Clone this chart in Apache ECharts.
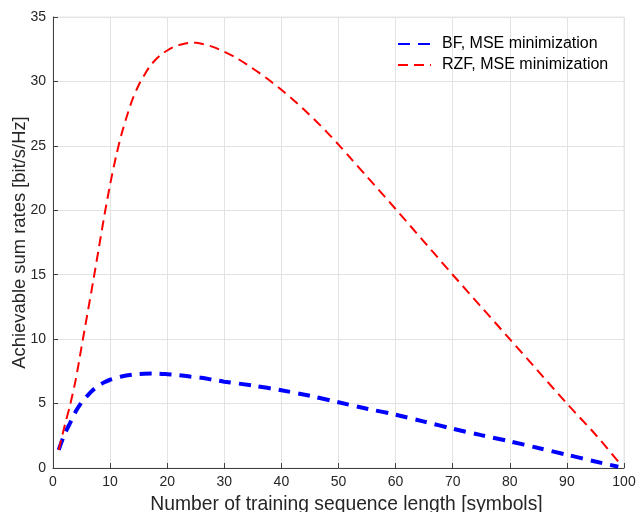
<!DOCTYPE html>
<html>
<head>
<meta charset="utf-8">
<script src="https://cdn.jsdelivr.net/npm/echarts@6/dist/echarts.min.js"></script>
<style>html,body{margin:0;padding:0;background:#fff}#c{width:636px;height:512px}</style>
</head>
<body>
<div id="c"></div>
<script>
var xTicks = [0,10,20,30,40,50,60,70,80,90,100];
var yTicks = [0,5,10,15,20,25,30,35];
var bfX = [1,2,3,4,5,6,7,8,9,10,12,14,16,18,20,22,24,26,28,30,35,40,45,50,55,60,65,70,75,80,85,90,95,99];
var bfY = [1.4,2.6,3.5,4.4,5.1,5.6,6.05,6.4,6.65,6.85,7.1,7.25,7.32,7.33,7.28,7.2,7.1,7.0,6.85,6.7,6.4,6.03,5.6,5.1,4.6,4.14,3.6,3.05,2.55,2.07,1.55,1.03,0.5,0.1];
var rzfX = [1,2,3,4,5,6,7,8,9,10,11,12,13,14,15,16,17,18,19,20,21,22,23,24,25,26,28,30,32,34,36,38,40,42,44,46,48,50,52,55,60,65,70,75,80,85,90,95,99];
var rzfY = [1.4,3.2,4.9,6.9,9.4,11.9,14.4,17.0,19.6,22.0,24.1,25.9,27.4,28.7,29.7,30.5,31.2,31.7,32.1,32.4,32.65,32.82,32.93,33.0,33.0,32.93,32.68,32.3,31.85,31.3,30.7,30.05,29.35,28.6,27.8,26.95,26.05,25.1,24.1,22.6,20.1,17.55,15.0,12.5,10.0,7.5,5.0,2.6,0.5];
var seriesNames = ['BF, MSE minimization','RZF, MSE minimization'];

function pairs(xs, ys){ return xs.map(function(x,i){return [x, ys[i]];}); }

var font = '"Liberation Sans", Arial, Helvetica, sans-serif';
var chart = echarts.init(document.getElementById('c'), null, {renderer:'canvas'});
chart.setOption({
  animation:false,
  backgroundColor:'#fff',
  grid:{left:53, right:12, top:17, bottom:44, containLabel:false, outerBoundsMode:'none',
        show:true, borderColor:'#e6e6e6', borderWidth:1},
  legend:{
    orient:'vertical', left:392, top:31, padding:5,
    itemWidth:33, itemHeight:14, itemGap:5,
    itemStyle:{opacity:0},
    textStyle:{fontFamily:font, fontSize:16, color:'#000', padding:[0,0,0,6]},
    data:seriesNames
  },
  xAxis:{
    type:'value', min:xTicks[0], max:xTicks[xTicks.length-1], interval:10,
    name:'Number of training sequence length [symbols]',
    nameLocation:'middle', nameGap:27,
    nameTextStyle:{fontFamily:font, fontSize:19.3, color:'#262626', padding:[0,0,0,16]},
    axisLine:{show:true, onZero:false, lineStyle:{color:'#404040', width:1}},
    axisTick:{show:true, inside:true, length:5, lineStyle:{color:'#404040'}},
    axisLabel:{fontFamily:font, fontSize:14, color:'#262626', margin:7},
    splitLine:{show:true, lineStyle:{color:'#e3e3e3', width:1}}
  },
  yAxis:{
    type:'value', min:yTicks[0], max:yTicks[yTicks.length-1], interval:5,
    name:'Achievable sum rates [bit/s/Hz]',
    nameLocation:'middle', nameGap:24, nameMoveOverlap:false,
    nameTextStyle:{fontFamily:font, fontSize:18.4, color:'#262626'},
    axisLine:{show:true, onZero:false, lineStyle:{color:'#404040', width:1}},
    axisTick:{show:true, inside:true, length:5, lineStyle:{color:'#404040'}},
    axisLabel:{fontFamily:font, fontSize:14, color:'#262626', margin:7},
    splitLine:{show:true, lineStyle:{color:'#e3e3e3', width:1}}
  },
  series:[
    {name:seriesNames[0], type:'line', data:pairs(bfX,bfY), smooth:0.3,
     symbol:'none', color:'#0000ff',
     lineStyle:{color:'#0000ff', width:4, type:[12,8]}},
    {name:seriesNames[1], type:'line', data:pairs(rzfX,rzfY), smooth:0.3,
     symbol:'none', color:'#ff0000',
     lineStyle:{color:'#ff0000', width:2, type:[10,6]}}
  ]
});
</script>
</body>
</html>
